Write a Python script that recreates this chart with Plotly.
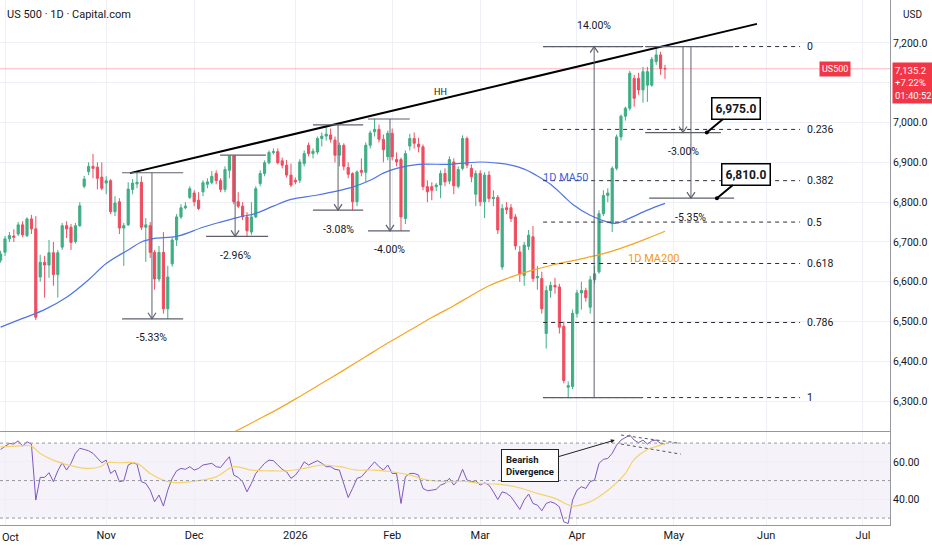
import numpy as np
import pandas as pd
import plotly.graph_objects as go
from plotly.subplots import make_subplots

# daily bars (weekdays), first bar Tue 2025-09-30, last bar Wed 2026-04-29
first_day = "2025-09-30"

opens = [6654, 6674, 6708, 6715, 6720, 6743, 6716, 6758, 6733, 6612,
         6649, 6642, 6673, 6618, 6687, 6741, 6737, 6701, 6741, 6840,
         6877, 6890, 6888, 6863, 6848, 6854, 6776, 6801, 6735, 6743,
         6832, 6846, 6850, 6737, 6741, 6674, 6607, 6674, 6532, 6645,
         6705, 6763, 6786, 6812, 6823, 6805, 6826, 6845, 6849, 6872,
         6854, 6832, 6880, 6916, 6801, 6790, 6763, 6725, 6763, 6847,
         6872, 6899, 6925, 6927, 6904, 6893, 6868, 6855, 6855, 6897,
         6943, 6922, 6926, 6960, 6966, 6969, 6956, 6918, 6943, 6887,
         6872, 6801, 6880, 6875, 6943, 6977, 6983, 6958, 6914, 6973,
         6907, 6907, 6759, 6941, 6960, 6946, 6939, 6839, 6839, 6839,
         6843, 6872, 6853, 6901, 6840, 6885, 6960, 6885, 6820, 6872,
         6801, 6868, 6809, 6812, 6637, 6786, 6786, 6763, 6675, 6616,
         6689, 6713, 6610, 6608, 6470, 6578, 6591, 6587, 6488, 6335,
         6337, 6520, 6572, 6578, 6536, 6605, 6625, 6771, 6817, 6746,
         6885, 6964, 7016, 7036, 7111, 7111, 7082, 7094, 7094, 7153,
         7170, 7136]
highs = [6678, 6715, 6725, 6732, 6750, 6752, 6762, 6768, 6765, 6668,
         6665, 6705, 6700, 6680, 6748, 6752, 6745, 6748, 6800, 6866,
         6900, 6921, 6900, 6900, 6865, 6858, 6815, 6810, 6748, 6850,
         6858, 6874, 6865, 6760, 6750, 6680, 6690, 6725, 6640, 6712,
         6770, 6795, 6800, 6840, 6830, 6825, 6855, 6860, 6878, 6880,
         6860, 6890, 6918, 6918, 6825, 6800, 6775, 6800, 6840, 6880,
         6905, 6930, 6935, 6935, 6912, 6906, 6897, 6862, 6908, 6930,
         6950, 6935, 6965, 6975, 6994, 6985, 6965, 6950, 6948, 6900,
         6875, 6880, 6910, 6950, 6980, 7009, 6995, 6970, 6980, 6985,
         6925, 6912, 6930, 6972, 6975, 6962, 6945, 6855, 6850, 6848,
         6880, 6885, 6915, 6910, 6890, 6968, 6965, 6895, 6880, 6880,
         6875, 6878, 6830, 6818, 6795, 6800, 6795, 6770, 6690, 6700,
         6730, 6740, 6640, 6625, 6590, 6600, 6610, 6595, 6500, 6350,
         6530, 6580, 6600, 6585, 6615, 6640, 6780, 6830, 6835, 6890,
         6970, 7020, 7040, 7130, 7120, 7125, 7140, 7140, 7165, 7191,
         7178, 7145]
lows = [6648, 6665, 6700, 6700, 6715, 6712, 6712, 6720, 6504, 6600,
        6560, 6610, 6590, 6560, 6680, 6710, 6680, 6696, 6738, 6835,
        6868, 6860, 6832, 6830, 6820, 6770, 6765, 6720, 6640, 6740,
        6820, 6835, 6730, 6650, 6660, 6580, 6600, 6520, 6507, 6638,
        6690, 6758, 6782, 6808, 6790, 6780, 6815, 6835, 6845, 6845,
        6825, 6825, 6860, 6795, 6785, 6755, 6714, 6718, 6760, 6840,
        6865, 6895, 6920, 6895, 6885, 6862, 6838, 6845, 6848, 6890,
        6915, 6910, 6920, 6940, 6955, 6950, 6900, 6890, 6880, 6860,
        6780, 6790, 6865, 6851, 6935, 6965, 6950, 6900, 6905, 6905,
        6890, 6728, 6745, 6930, 6935, 6925, 6830, 6800, 6805, 6828,
        6810, 6840, 6845, 6820, 6835, 6880, 6885, 6850, 6790, 6790,
        6760, 6800, 6790, 6720, 6630, 6770, 6750, 6680, 6600, 6590,
        6680, 6600, 6580, 6520, 6432, 6560, 6570, 6470, 6345, 6309,
        6330, 6510, 6530, 6550, 6520, 6595, 6620, 6765, 6800, 6725,
        6880, 6955, 7005, 7030, 7040, 7070, 7050, 7052, 7090, 7145,
        7120, 7110]
closes = [6670, 6708, 6716, 6712, 6743, 6718, 6758, 6733, 6511, 6649,
          6642, 6673, 6618, 6673, 6741, 6733, 6699, 6741, 6791, 6858,
          6890, 6885, 6860, 6835, 6854, 6776, 6798, 6735, 6741, 6833,
          6848, 6850, 6737, 6743, 6674, 6607, 6674, 6532, 6612, 6705,
          6763, 6786, 6790, 6834, 6801, 6784, 6849, 6851, 6865, 6854,
          6832, 6882, 6916, 6801, 6790, 6763, 6728, 6763, 6834, 6872,
          6899, 6925, 6927, 6899, 6893, 6868, 6843, 6851, 6901, 6922,
          6922, 6928, 6960, 6966, 6971, 6958, 6918, 6943, 6890, 6870,
          6801, 6876, 6875, 6943, 6974, 6983, 6958, 6932, 6973, 6914,
          6901, 6763, 6922, 6960, 6948, 6939, 6839, 6826, 6830, 6843,
          6872, 6851, 6907, 6841, 6882, 6960, 6893, 6864, 6872, 6801,
          6868, 6809, 6812, 6730, 6784, 6781, 6759, 6690, 6620, 6692,
          6717, 6608, 6613, 6532, 6578, 6591, 6587, 6486, 6352, 6339,
          6521, 6572, 6578, 6560, 6605, 6620, 6771, 6817, 6823, 6885,
          6964, 7016, 7036, 7124, 7061, 7082, 7128, 7128, 7159, 7170,
          7136, 7135.2]

# moving averages at some bar numbers
ma50_bar = [0, 5, 10, 15, 20, 24, 29, 32, 35, 40, 46, 50, 54, 58, 62, 66, 72, 80,
            84, 87, 90, 95, 102, 106, 109, 113, 116, 119, 122, 125, 128, 130,
            134, 138, 140, 143, 147, 151]
ma50_val = [6486, 6508, 6530, 6561, 6605, 6646, 6680, 6700, 6709, 6714, 6737, 6750,
            6762, 6772, 6790, 6807, 6818, 6838, 6855, 6873, 6885, 6895, 6895, 6899,
            6901, 6898, 6893, 6883, 6866, 6845, 6815, 6795, 6767, 6750, 6747, 6760,
            6780, 6797]
ma200_bar = [53, 58, 63, 68, 73, 78, 83, 88, 93, 98, 103, 108, 111, 115, 120, 125,
             130, 135, 139, 143, 147, 151]
ma200_val = [6222, 6251, 6280, 6312, 6345, 6378, 6412, 6446, 6478, 6510, 6540, 6572,
             6590, 6608, 6626, 6641, 6653, 6665, 6677, 6692, 6709, 6727]

# RSI(14), one value per bar, and its moving average
rsi_val = [66.6, 68.4, 69.8, 69.5, 71.2, 68.4, 70.7, 69.5, 39.6, 51.7,
           51.7, 54.2, 49.4, 55.2, 59.5, 55.6, 59.2, 64.5, 67.2, 66.6,
           65.9, 64.5, 61.8, 59.5, 60.9, 53.8, 55.6, 49.4, 49.9, 58.3,
           59.5, 58.8, 49.4, 48.5, 44.9, 38.7, 42.3, 36.4, 44.9, 51.2,
           55.2, 56.5, 56.0, 57.4, 55.6, 56.5, 58.3, 58.8, 59.2, 57.4,
           57.0, 60.0, 62.7, 52.9, 51.7, 49.4, 44.0, 48.5, 53.8, 56.5,
           59.2, 60.9, 60.6, 58.3, 56.0, 54.7, 51.2, 52.9, 56.0, 60.0,
           58.3, 59.5, 60.6, 59.2, 57.4, 57.4, 56.0, 55.6, 47.6, 41.0,
           45.8, 51.2, 52.0, 54.7, 57.4, 60.0, 57.4, 55.6, 58.3, 53.8,
           53.8, 37.8, 52.0, 53.8, 53.8, 52.9, 45.8, 44.6, 44.9, 45.3,
           47.6, 48.5, 51.2, 47.6, 50.3, 56.0, 50.3, 49.4, 49.9, 47.6,
           48.8, 47.6, 44.0, 39.9, 44.0, 43.2, 41.4, 37.8, 34.6, 39.6,
           42.8, 37.8, 36.9, 33.9, 37.8, 38.7, 37.8, 36.0, 28.0, 27.1,
           39.6, 44.9, 46.7, 45.8, 49.4, 50.3, 59.2, 61.3, 61.8, 64.5,
           68.9, 71.6, 73.0, 74.3, 71.6, 70.2, 71.6, 69.5, 71.2, 71.6,
           69.8, 69.5]
rsi_ma_bar = [0, 4, 7, 9, 13, 17, 20, 23, 24, 27, 31, 34, 38, 40, 44, 49, 53, 57,
              61, 65, 69, 73, 77, 81, 85, 89, 93, 97, 101, 105, 109, 113, 117,
              122, 126, 130, 134, 136, 139, 142, 144, 147, 150, 151]
rsi_ma_val = [68.0, 68.4, 68.4, 64.5, 60.0, 57.4, 56.5, 57.8, 59.5, 59.5, 59.2,
              53.8, 49.4, 48.8, 49.7, 52.0, 57.4, 55.6, 55.2, 55.2, 56.5, 58.3,
              57.4, 55.6, 55.6, 54.7, 52.9, 50.3, 49.4, 49.7, 48.5, 48.1, 46.7,
              43.2, 40.5, 36.4, 38.7, 41.4, 46.7, 53.8, 61.3, 66.6, 68.9, 69.8]

month_starts = ["2025-10-01", "2025-11-03", "2025-12-01", "2026-01-01", "2026-02-02",
                "2026-03-02", "2026-04-01", "2026-05-01", "2026-06-01", "2026-07-01"]
month_labels = ["Oct", "Nov", "Dec", "2026", "Feb", "Mar", "Apr", "May", "Jun", "Jul"]

price_ticks = [6300, 6400, 6500, 6600, 6700, 6800, 6900, 7000, 7100, 7200]
# 7,100.0 sits under the last-price tag, so its label is left empty
price_labels = ["6,300.0", "6,400.0", "6,500.0", "6,600.0", "6,700.0", "6,800.0",
                "6,900.0", "7,000.0", "", "7,200.0"]
fib_ratios = [0, 0.236, 0.382, 0.5, 0.618, 0.786, 1]
fib_top = 7191.0
fib_bottom = 6309.0
last_price = 7135.2

GREEN = "#3fae84"
RED = "#ef4d5f"
TOOL = "#5d606b"
TXT = "#131722"
FONT = "Roboto, Liberation Sans, sans-serif"

days = pd.bdate_range(first_day, periods=260)


def at(k):
    # bar number (may be fractional) -> timestamp at the bar centre
    u = k + 0.5
    d = int(np.floor(u))
    return days[d] + pd.Timedelta(days=float(u - d))


bar_x = [at(i) for i in range(len(closes))]

fig = make_subplots(rows=2, cols=1, shared_xaxes=True, vertical_spacing=0)

fig.add_trace(go.Candlestick(
    x=bar_x, open=opens, high=highs, low=lows, close=closes,
    increasing=dict(line=dict(color=GREEN, width=1), fillcolor=GREEN),
    decreasing=dict(line=dict(color=RED, width=1), fillcolor=RED),
    whiskerwidth=0, showlegend=False, hoverinfo="skip"), row=1, col=1)

fig.add_trace(go.Scatter(x=[at(k) for k in ma50_bar], y=ma50_val, mode="lines",
                         line=dict(color="#4f74e6", width=1.2, shape="spline"),
                         showlegend=False, hoverinfo="skip"), row=1, col=1)
fig.add_trace(go.Scatter(x=[at(k) for k in ma200_bar], y=ma200_val, mode="lines",
                         line=dict(color="#f5a623", width=1.2, shape="spline"),
                         showlegend=False, hoverinfo="skip"), row=1, col=1)

fig.add_trace(go.Scatter(x=bar_x, y=rsi_val, mode="lines",
                         line=dict(color="#7e57c2", width=1), showlegend=False,
                         hoverinfo="skip"), row=2, col=1)
fig.add_trace(go.Scatter(x=[at(k) for k in rsi_ma_bar], y=rsi_ma_val, mode="lines",
                         line=dict(color="#f4d36b", width=1.2, shape="spline"),
                         showlegend=False, hoverinfo="skip"), row=2, col=1)

# RSI band and levels
fig.add_shape(type="rect", xref="x2 domain", yref="y2", x0=0, x1=1, y0=30, y1=70,
              fillcolor="rgba(126,87,194,0.08)", line_width=0, layer="below")
for lvl in (30, 50, 70):
    fig.add_shape(type="line", xref="x2 domain", yref="y2", x0=0, x1=1, y0=lvl, y1=lvl,
                  line=dict(color="#9598a1", width=1, dash="dot"))

# last price line
fig.add_shape(type="line", xref="x domain", yref="y", x0=0, x1=1, y0=last_price,
              y1=last_price, line=dict(color="rgba(242,54,69,0.35)", width=1))

# rising trendline (HH)
fig.add_shape(type="line", xref="x", yref="y", x0=at(29.4), y0=6873, x1=at(171.9),
              y1=7248, line=dict(color="#000000", width=2))
fig.add_annotation(x=at(99.9), y=7077, text="HH", showarrow=False,
                   font=dict(size=9, color=TXT))

# fibonacci retracement
for r in fib_ratios:
    lvl = fib_top - r * (fib_top - fib_bottom)
    fig.add_shape(type="line", xref="x", yref="y", x0=at(123.3), x1=at(181.7),
                  y0=lvl, y1=lvl, line=dict(color="#2a2e39", width=1, dash="4px,4px"))
    fig.add_annotation(x=at(182.8), y=lvl, text=f"{r:g}", showarrow=False,
                       xanchor="left", font=dict(size=10.5, color=TXT))


def chevron(k, price, up):
    arm = -6 if up else 6
    fig.add_shape(type="path", xref="x", yref="y", xsizemode="pixel",
                  ysizemode="pixel", xanchor=at(k), yanchor=price,
                  path=f"M -4,{arm} L 0,0 L 4,{arm}",
                  line=dict(color=TOOL, width=1.2))


def measure(top, bot, top_span, bot_span, xv, text, up=False, draw_top=True):
    if draw_top:
        fig.add_shape(type="line", xref="x", yref="y", x0=at(top_span[0]),
                      x1=at(top_span[1]), y0=top, y1=top,
                      line=dict(color=TOOL, width=1.2))
    fig.add_shape(type="line", xref="x", yref="y", x0=at(bot_span[0]),
                  x1=at(bot_span[1]), y0=bot, y1=bot, line=dict(color=TOOL, width=1.2))
    fig.add_shape(type="line", xref="x", yref="y", x0=at(xv), x1=at(xv), y0=top,
                  y1=bot, line=dict(color=TOOL, width=1))
    chevron(xv, top if up else bot, up)
    fig.add_annotation(x=at(xv), y=top if up else bot, text=text, showarrow=False,
                       yshift=21 if up else -19, font=dict(size=10.5, color=TXT))


measure(6874, 6507, (27.6, 41.5), (27.6, 41.5), 34.4, "-5.33%")
measure(6918, 6714, (49.9, 60.3), (46.7, 60.8), 53.3, "-2.96%")
measure(6994, 6780, (71.0, 82.4), (71.0, 82.4), 76.7, "-3.08%")
measure(7009, 6728, (83.5, 93.0), (83.5, 93.0), 88.5, "-4.00%")
measure(fib_top, fib_bottom, (123.3, 145.8), (123.3, 145.8), 134.9, "14.00%", up=True)
measure(fib_top, 6975, (146.5, 166.5), (146.5, 163.7), 155.1, "-3.00%")
measure(fib_top, 6810, (146.5, 166.5), (147.4, 166.7), 156.9, "-5.35%", draw_top=False)

# target callouts
for k, lvl, label in ((160.5, 6975, "6,975.0"), (162.8, 6810, "6,810.0")):
    fig.add_annotation(x=at(k), y=lvl, text=f"<b>{label}</b>", ax=29, ay=-24,
                       showarrow=True, arrowhead=6, arrowsize=0.5, arrowwidth=2,
                       arrowcolor="#000000", bgcolor="#ffffff", bordercolor="#000000",
                       borderwidth=1.5, borderpad=3, font=dict(size=12, color=TXT))

fig.add_annotation(x=at(128.3), y=6863, text="1D MA50", showarrow=False,
                   font=dict(size=11, color="#3f63d8"))
fig.add_annotation(x=at(148.5), y=6659, text="1D MA200", showarrow=False,
                   font=dict(size=11, color="#f59a14"))

# bearish divergence on RSI
fig.add_shape(type="line", xref="x2", yref="y2", x0=at(141), y0=74.3, x1=at(154),
              y1=70.0, line=dict(color="#555", width=1, dash="3px,3px"))
fig.add_shape(type="line", xref="x2", yref="y2", x0=at(141), y0=69.5, x1=at(154.6),
              y1=64.1, line=dict(color="#555", width=1, dash="3px,3px"))
fig.add_annotation(x=at(139.6), y=71.6, xref="x2", yref="y2",
                   text="<b>Bearish<br>Divergence</b>", ax=-85, ay=25, align="left",
                   showarrow=True, arrowhead=2, arrowsize=0.8, arrowwidth=1,
                   arrowcolor="#222", bgcolor="#ffffff", bordercolor="#222",
                   borderwidth=1, borderpad=4, font=dict(size=9.5, color=TXT))

# header, axis tags
fig.add_annotation(xref="paper", yref="paper", x=0.006, y=0.973, xanchor="left",
                   yanchor="middle", text="US 500 · 1D · Capital.com", showarrow=False,
                   font=dict(size=11, color=TXT))
fig.add_annotation(xref="paper", yref="paper", x=1.012, y=0.973, xanchor="left",
                   yanchor="middle", text="USD", showarrow=False,
                   font=dict(size=10, color=TXT))
fig.add_annotation(xref="paper", yref="y", x=0.956, y=last_price, text="US500",
                   showarrow=False, bgcolor="#f23645", borderpad=2,
                   font=dict(size=9, color="#ffffff"))
fig.add_annotation(xref="paper", yref="paper", x=1.0, xshift=2, y=0.881,
                   xanchor="left", yanchor="top", align="left",
                   text="7,135.2<br>+7.22%<br>01:40:52", showarrow=False,
                   bgcolor="#f23645", borderpad=2, font=dict(size=9.5, color="#ffffff"))

tick_x = [at(days.get_loc(pd.Timestamp(d))) for d in month_starts]
# first month label sits on the left edge, drawn by hand so it is not dropped
fig.add_annotation(xref="paper", yref="paper", x=0.0, y=0, yshift=-12, xanchor="left",
                   yanchor="middle", text=month_labels[0], showarrow=False,
                   font=dict(size=11, color=TXT))

x_left = at(-0.136)
x_right = at(202.14)
axis_x = dict(range=[x_left, x_right], rangebreaks=[dict(bounds=["sat", "mon"])],
              tickvals=tick_x, ticktext=month_labels, showgrid=True,
              gridcolor="#eef0f5", showline=True, linecolor="#9598a1", ticks="",
              zeroline=False, fixedrange=True)

fig.update_layout(
    width=932, height=550, margin=dict(l=0, r=42, t=0, b=25),
    paper_bgcolor="#ffffff", plot_bgcolor="#ffffff",
    font=dict(family=FONT, color=TXT, size=11), showlegend=False,
    xaxis=dict(axis_x, showticklabels=False, rangeslider=dict(visible=False)),
    xaxis2=dict(axis_x, showticklabels=True, tickfont=dict(size=11, color=TXT)),
    yaxis=dict(domain=[0.179, 1], side="right", range=[6225, 7308], tickvals=price_ticks,
               ticktext=price_labels, showgrid=True, gridcolor="#eef0f5", showline=True,
               linecolor="#9598a1", ticks="", zeroline=False, fixedrange=True,
               tickfont=dict(size=10.5, color=TXT)),
    yaxis2=dict(domain=[0, 0.1771], side="right", range=[26.3, 75.9], tickvals=[40, 60],
                ticktext=["40.00", "60.00"], showgrid=True, gridcolor="#eef0f5",
                showline=True, linecolor="#9598a1", ticks="", zeroline=False,
                fixedrange=True, tickfont=dict(size=10.5, color=TXT)),
)

# the page's default body margin would push the chart off the window
fig.write_html("out.html", config={"displayModeBar": False},
               post_script="document.body.style.margin='0px';")
